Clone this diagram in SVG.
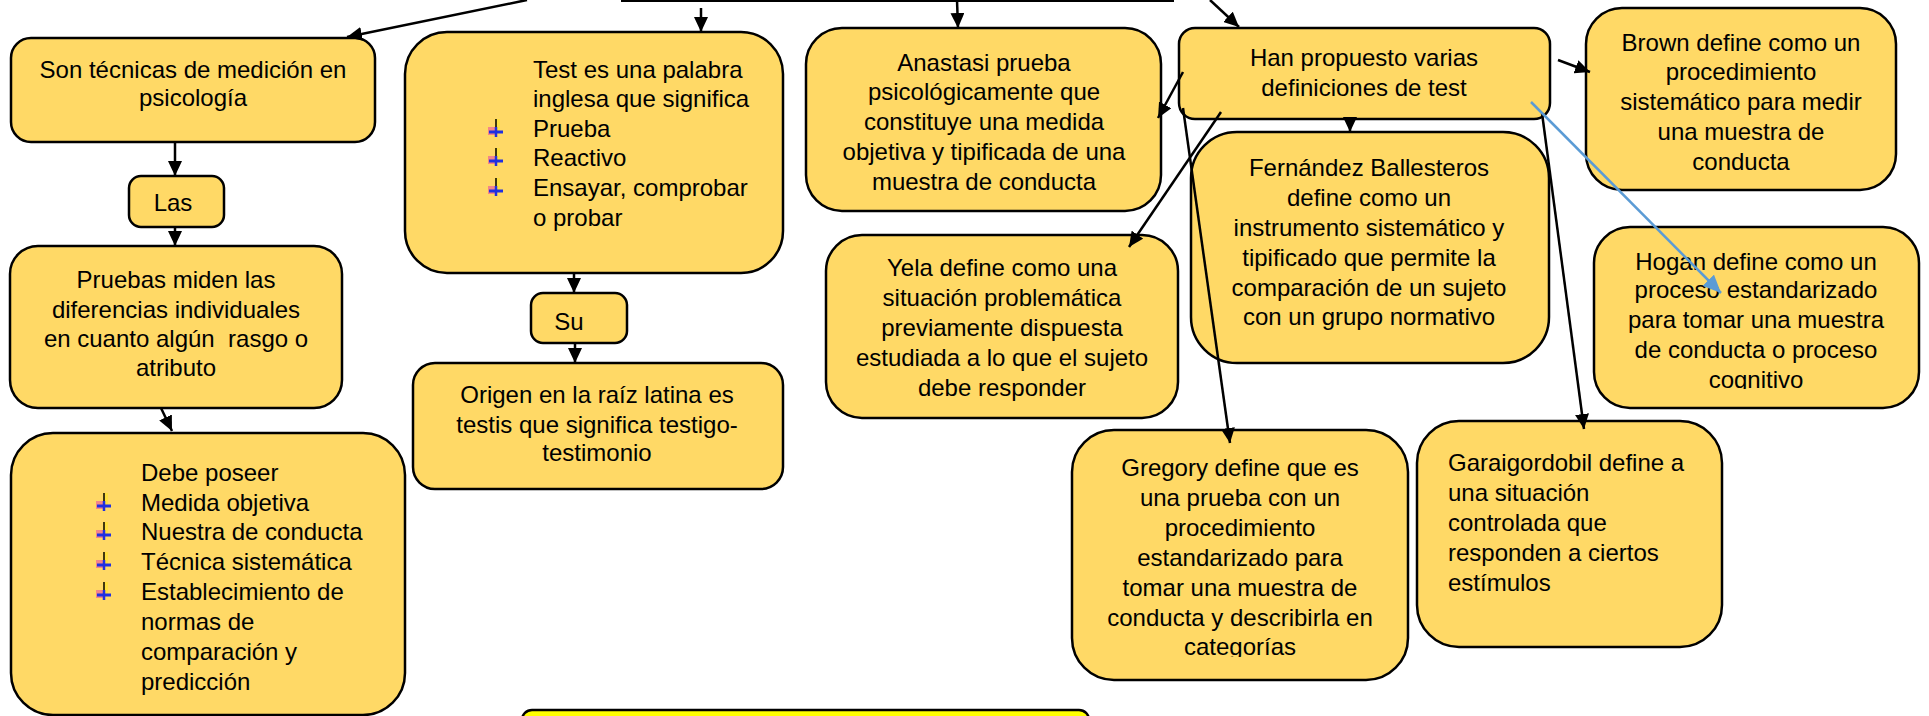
<svg xmlns="http://www.w3.org/2000/svg" width="1929" height="716" viewBox="0 0 1929 716">
<style>
.box{fill:#FFD966;stroke:#000;stroke-width:2.5}
.hl{fill:#FFFF00;stroke:#000;stroke-width:2.5}
text{font-family:"Liberation Sans",Arial,sans-serif;font-size:24px;fill:#000}
.c{text-anchor:middle}
.ln{stroke:#000;stroke-width:2.5;fill:none;marker-end:url(#arr)}
.bl{stroke:#5B9BD5;stroke-width:2.5;fill:none;marker-end:url(#barr)}
</style>
<defs>
<marker id="arr" markerUnits="userSpaceOnUse" markerWidth="15" markerHeight="14" refX="15" refY="7" orient="auto"><path d="M0,0 L15,7 L0,14 z" fill="#000"/></marker>
<marker id="barr" markerUnits="userSpaceOnUse" markerWidth="18" markerHeight="16" refX="18" refY="8" orient="auto"><path d="M0,0 L18,8 L0,16 z" fill="#5B9BD5"/></marker>
<g id="bul">
<rect x="-8" y="-10" width="7" height="8" fill="#F07090" opacity="0.8"/>
<rect x="-1" y="-18" width="5" height="14" fill="#FFE040"/>
<line x1="0" y1="-18" x2="0" y2="-1" stroke="#000" stroke-width="1.5"/>
<line x1="-7" y1="-5" x2="7" y2="-5" stroke="#2030E0" stroke-width="3"/>
<line x1="0" y1="-10" x2="0" y2="0" stroke="#2030E0" stroke-width="2.5"/>
</g>
<clipPath id="clipHogan"><rect x="1590" y="220" width="335" height="169"/></clipPath>
<clipPath id="clipGreg"><rect x="1070" y="425" width="340" height="232"/></clipPath>
</defs>

<g id="n-son">
<rect class="box" x="11" y="38" width="364" height="104" rx="20"/>
<text class="c" x="193" y="78">Son técnicas de medición en</text>
<text class="c" x="193" y="106">psicología</text>
</g>

<g id="n-las">
<rect class="box" x="129" y="176" width="95" height="51" rx="12"/>
<text class="c" x="173" y="211">Las</text>
</g>

<g id="n-pruebas">
<rect class="box" x="10" y="246" width="332" height="162" rx="28"/>
<text class="c" x="176" y="288">Pruebas miden las</text>
<text class="c" x="176" y="318">diferencias individuales</text>
<text class="c" x="176" y="347" xml:space="preserve">en cuanto algún  rasgo o</text>
<text class="c" x="176" y="376">atributo</text>
</g>

<g id="n-debe">
<rect class="box" x="11" y="433" width="394" height="282" rx="42"/>
<text x="141" y="481">Debe poseer</text>
<use href="#bul" x="104" y="511"/><text x="141" y="511">Medida objetiva</text>
<use href="#bul" x="104" y="540"/><text x="141" y="540">Nuestra de conducta</text>
<use href="#bul" x="104" y="570"/><text x="141" y="570">Técnica sistemática</text>
<use href="#bul" x="104" y="600"/><text x="141" y="600">Establecimiento de</text>
<text x="141" y="630">normas de</text>
<text x="141" y="660">comparación y</text>
<text x="141" y="690">predicción</text>
</g>

<g id="n-test">
<rect class="box" x="405" y="32" width="378" height="241" rx="42"/>
<text x="533" y="78">Test es una palabra</text>
<text x="533" y="107">inglesa que significa</text>
<use href="#bul" x="496" y="137"/><text x="533" y="137">Prueba</text>
<use href="#bul" x="496" y="166"/><text x="533" y="166">Reactivo</text>
<use href="#bul" x="496" y="196"/><text x="533" y="196">Ensayar, comprobar</text>
<text x="533" y="226">o probar</text>
</g>

<g id="n-su">
<rect class="box" x="531" y="293" width="96" height="50" rx="12"/>
<text class="c" x="569" y="330">Su</text>
</g>

<g id="n-origen">
<rect class="box" x="413" y="363" width="370" height="126" rx="22"/>
<text class="c" x="597" y="403">Origen en la raíz latina es</text>
<text class="c" x="597" y="433">testis que significa testigo-</text>
<text class="c" x="597" y="461">testimonio</text>
</g>

<g id="n-anastasi">
<rect class="box" x="806" y="28" width="355" height="183" rx="36"/>
<text class="c" x="984" y="71">Anastasi prueba</text>
<text class="c" x="984" y="100">psicológicamente que</text>
<text class="c" x="984" y="130">constituye una medida</text>
<text class="c" x="984" y="160">objetiva y tipificada de una</text>
<text class="c" x="984" y="190">muestra de conducta</text>
</g>

<g id="n-han">
<rect class="box" x="1179" y="28" width="371" height="91" rx="16"/>
<text class="c" x="1364" y="66">Han propuesto varias</text>
<text class="c" x="1364" y="96">definiciones de test</text>
</g>

<g id="n-fernandez">
<rect class="box" x="1191" y="132" width="358" height="231" rx="46"/>
<text class="c" x="1369" y="176">Fernández Ballesteros</text>
<text class="c" x="1369" y="206">define como un</text>
<text class="c" x="1369" y="236">instrumento sistemático y</text>
<text class="c" x="1369" y="266">tipificado que permite la</text>
<text class="c" x="1369" y="296">comparación de un sujeto</text>
<text class="c" x="1369" y="325">con un grupo normativo</text>
</g>

<g id="n-yela">
<rect class="box" x="826" y="235" width="352" height="183" rx="36"/>
<text class="c" x="1002" y="276">Yela define como una</text>
<text class="c" x="1002" y="306">situación problemática</text>
<text class="c" x="1002" y="336">previamente dispuesta</text>
<text class="c" x="1002" y="366">estudiada a lo que el sujeto</text>
<text class="c" x="1002" y="396">debe responder</text>
</g>

<g id="n-brown">
<rect class="box" x="1586" y="8" width="310" height="182" rx="36"/>
<text class="c" x="1741" y="51">Brown define como un</text>
<text class="c" x="1741" y="80">procedimiento</text>
<text class="c" x="1741" y="110">sistemático para medir</text>
<text class="c" x="1741" y="140">una muestra de</text>
<text class="c" x="1741" y="170">conducta</text>
</g>

<g id="n-hogan">
<rect class="box" x="1594" y="227" width="325" height="181" rx="36"/>
<g clip-path="url(#clipHogan)">
<text class="c" x="1756" y="270">Hogan define como un</text>
<text class="c" x="1756" y="298">proceso estandarizado</text>
<text class="c" x="1756" y="328">para tomar una muestra</text>
<text class="c" x="1756" y="358">de conducta o proceso</text>
<text class="c" x="1756" y="388">cognitivo</text>
</g>
</g>

<g id="n-gregory">
<rect class="box" x="1072" y="430" width="336" height="250" rx="42"/>
<g clip-path="url(#clipGreg)">
<text class="c" x="1240" y="476">Gregory define que es</text>
<text class="c" x="1240" y="506">una prueba con un</text>
<text class="c" x="1240" y="536">procedimiento</text>
<text class="c" x="1240" y="566">estandarizado para</text>
<text class="c" x="1240" y="596">tomar una muestra de</text>
<text class="c" x="1240" y="626">conducta y describirla en</text>
<text class="c" x="1240" y="655">categorías</text>
</g>
</g>

<g id="n-garaigordobil">
<rect class="box" x="1417" y="421" width="305" height="226" rx="42"/>
<text x="1448" y="471">Garaigordobil define a</text>
<text x="1448" y="501">una situación</text>
<text x="1448" y="531">controlada que</text>
<text x="1448" y="561">responden a ciertos</text>
<text x="1448" y="591">estímulos</text>
</g>

<g id="n-bottom">
<rect class="hl" x="522" y="710" width="567" height="40" rx="10"/>
</g>

<g id="connectors">
<line x1="621" y1="0.8" x2="1174" y2="0.8" stroke="#000" stroke-width="2.5"/>
<line class="ln" x1="527" y1="0" x2="347" y2="37"/>
<line class="ln" x1="701" y1="8" x2="701" y2="32"/>
<line class="ln" x1="957" y1="0" x2="958" y2="28"/>
<line class="ln" x1="1210" y1="0" x2="1239" y2="27"/>
<line class="ln" x1="175" y1="142" x2="175" y2="176"/>
<line class="ln" x1="175" y1="227" x2="175" y2="246"/>
<line class="ln" x1="161" y1="408" x2="172" y2="431"/>
<line class="ln" x1="574" y1="273" x2="574" y2="293"/>
<line class="ln" x1="575" y1="343" x2="575" y2="363"/>
<line class="ln" x1="1183" y1="72" x2="1158" y2="118"/>
<line class="ln" x1="1221" y1="112" x2="1129" y2="247"/>
<line class="ln" x1="1350" y1="117" x2="1350" y2="132"/>
<line class="ln" x1="1183" y1="108" x2="1230" y2="443"/>
<line class="ln" x1="1542" y1="113" x2="1584" y2="429"/>
<line class="ln" x1="1558" y1="60" x2="1590" y2="72"/>
<line class="bl" x1="1531" y1="102" x2="1721" y2="293"/>
</g>
</svg>
